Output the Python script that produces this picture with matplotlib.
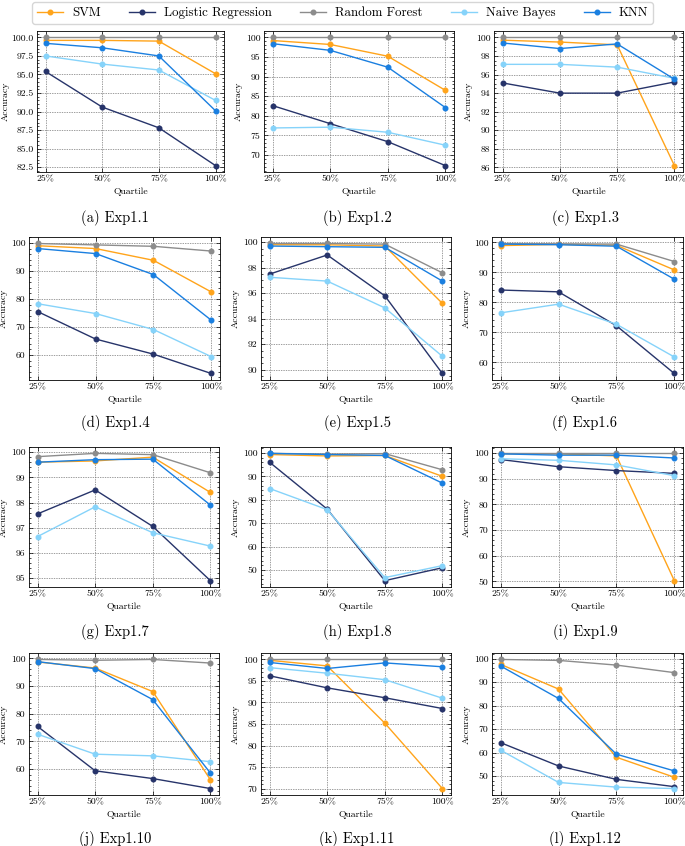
import numpy as np
import matplotlib
matplotlib.use('Agg')
import matplotlib.pyplot as plt
from matplotlib.ticker import MultipleLocator, AutoMinorLocator, FormatStrFormatter
from matplotlib.lines import Line2D

quartiles = ['25%', '50%', '75%', '100%']
models = ['SVM', 'Logistic Regression', 'Random Forest', 'Naive Bayes', 'KNN']
colors = {
  'SVM': '#FFA41B',
  'Logistic Regression': '#27346A',
  'Random Forest': '#8C8C8C',
  'Naive Bayes': '#86D3FA',
  'KNN': '#1A7FE0',
}

captions = ['(a) Exp1.1', '(b) Exp1.2', '(c) Exp1.3', '(d) Exp1.4', '(e) Exp1.5', '(f) Exp1.6',
            '(g) Exp1.7', '(h) Exp1.8', '(i) Exp1.9', '(j) Exp1.10', '(k) Exp1.11', '(l) Exp1.12']

# accuracy per experiment, order: SVM, LR, RF, NB, KNN
exp1_1 = [[99.6, 99.6, 99.5, 95.1], [95.4, 90.6, 87.8, 82.7], [100, 100, 100, 100],
          [97.5, 96.4, 95.6, 91.5], [99.2, 98.6, 97.5, 90.1]]
exp1_2 = [[99.2, 98.2, 95.2, 86.5], [82.6, 78.0, 73.4, 67.3], [100, 100, 100, 100],
          [76.9, 77.1, 75.8, 72.5], [98.4, 96.7, 92.4, 82.1]]
exp1_3 = [[99.7, 99.5, 99.2, 86.2], [95.1, 94.0, 94.0, 95.2], [100, 100, 100, 100],
          [97.1, 97.1, 96.8, 95.6], [99.4, 98.8, 99.3, 95.5]]
exp1_4 = [[99.0, 98.0, 93.8, 82.5], [75.5, 65.7, 60.3, 53.4], [99.8, 99.3, 98.8, 97.1],
          [78.3, 74.8, 69.1, 59.4], [98.0, 96.2, 88.7, 72.4]]
exp1_5 = [[99.8, 99.8, 99.7, 95.2], [97.5, 99.0, 95.8, 89.7], [99.9, 99.9, 99.85, 97.6],
          [97.25, 96.95, 94.85, 91.05], [99.7, 99.65, 99.6, 96.95]]
exp1_6 = [[98.9, 99.3, 99.0, 90.8], [84.1, 83.5, 72.2, 56.3], [99.6, 99.5, 99.4, 93.6],
          [76.5, 79.4, 72.7, 61.8], [99.4, 99.2, 98.7, 87.7]]
exp1_7 = [[99.6, 99.65, 99.8, 98.4], [97.55, 98.5, 97.05, 94.9], [99.82, 99.95, 99.9, 99.18],
          [96.65, 97.83, 96.8, 96.27], [99.6, 99.7, 99.72, 97.9]]
exp1_8 = [[99.3, 98.7, 98.9, 90.0], [96.0, 76.0, 45.5, 51.0], [99.8, 99.5, 99.7, 92.8],
          [84.8, 75.8, 46.8, 51.9], [99.8, 99.3, 98.9, 87.1]]
exp1_9 = [[99.8, 99.7, 98.9, 50.3], [97.5, 94.7, 93.2, 92.1], [99.9, 99.9, 99.9, 99.9],
          [97.8, 97.2, 95.4, 91.2], [99.7, 99.2, 99.2, 98.1]]
exp1_10 = [[98.7, 96.5, 88.0, 56.2], [75.4, 59.4, 56.6, 53.0], [99.6, 99.3, 99.6, 98.3],
           [72.6, 65.4, 64.8, 62.7], [98.8, 96.3, 85.1, 58.6]]
exp1_11 = [[99.8, 98.5, 85.2, 70.0], [96.2, 93.4, 91.1, 88.6], [100, 100, 100, 100],
           [98.1, 96.8, 95.3, 91.0], [99.3, 97.9, 99.2, 98.3]]
exp1_12 = [[97.5, 87.0, 58.0, 49.5], [64.2, 54.3, 48.6, 45.5], [99.6, 99.2, 97.2, 94.0],
           [61.0, 47.3, 45.3, 44.7], [96.8, 83.0, 59.3, 52.2]]

experiments = [exp1_1, exp1_2, exp1_3, exp1_4, exp1_5, exp1_6,
               exp1_7, exp1_8, exp1_9, exp1_10, exp1_11, exp1_12]
ytick_step = [2.5, 5, 2, 10, 2, 10, 1, 10, 10, 10, 5, 10]
ytick_fmt = ['%.1f', '%d', '%d', '%d', '%d', '%d', '%d', '%d', '%d', '%d', '%d', '%d']

#%%
plt.rcParams['font.family'] = 'cmr10'
plt.rcParams['mathtext.fontset'] = 'cm'
plt.rcParams['axes.formatter.use_mathtext'] = True
plt.rcParams['font.size'] = 7

W, H = 685, 846
fig = plt.figure(figsize=(W/100, H/100), dpi=100)

# pixel boxes of each axes: left, right per panel, top/bottom per row
lefts = [37, 264, 494, 29, 261, 492, 29, 261, 492, 29, 261, 492]
rights = [224, 454, 683, 220, 451, 683, 219, 451, 683, 219, 451, 683]
tops = [31, 237, 447, 653]
bottoms = [172, 380, 587, 795]
cap_x = [115, 357, 585]
cap_y = [218, 423, 632, 839]

x = np.arange(len(quartiles))
for i, data in enumerate(experiments):
  r, c = divmod(i, 3)
  l, rr = lefts[i], rights[i]
  t, b = tops[r], bottoms[r]
  ax = fig.add_axes([l/W, 1 - b/H, (rr - l)/W, (b - t)/H])
  for name, vals in zip(models, data):
    ax.plot(x, vals, marker='o', markersize=3.3, lw=1.0, color=colors[name], label=name)
  ax.set_xticks(x)
  ax.set_xticklabels(quartiles)
  ax.yaxis.set_major_locator(MultipleLocator(ytick_step[i]))
  ax.yaxis.set_minor_locator(AutoMinorLocator())
  ax.yaxis.set_major_formatter(FormatStrFormatter(ytick_fmt[i]))
  ax.tick_params(which='both', direction='in', top=True, right=True, pad=2.5)
  ax.tick_params(which='major', length=3, width=0.5)
  ax.tick_params(which='minor', length=1.5, width=0.5)
  ax.grid(True, which='major', ls=(0, (2, 1.5)), lw=0.5, color='#777777')
  for s in ax.spines.values():
    s.set_linewidth(0.6)
  ax.set_xlabel('Quartile', labelpad=3)
  ax.set_ylabel('Accuracy', labelpad=1 if i == 0 else 2)
  fig.text(cap_x[c]/W, 1 - cap_y[r]/H, captions[i], ha='center', va='center', fontsize=10.5)

handles = [Line2D([0], [0], color=colors[m], marker='o', markersize=3.3, lw=1.0, label=m) for m in models]
fig.legend(handles=handles, loc='center', bbox_to_anchor=(0.5, 1 - 13/H), ncol=5,
           fontsize=9.3, frameon=True, fancybox=True, edgecolor='#cccccc',
           columnspacing=2.2, handlelength=2.0, handletextpad=0.7, borderpad=0.35)

plt.savefig('out.png', dpi=100)
